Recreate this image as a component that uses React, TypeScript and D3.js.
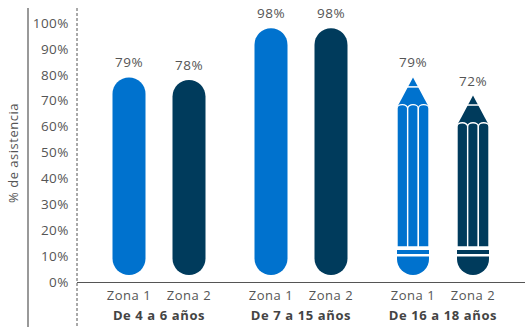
import React from "react";
import * as d3 from "d3";

const groups = ["De 4 a 6 años", "De 7 a 15 años", "De 16 a 18 años"];
const zones = ["Zona 1", "Zona 2"];
const values = [
  [79, 78],
  [98, 98],
  [79, 72],
];
const ticks = [0, 10, 20, 30, 40, 50, 60, 70, 80, 90, 100];
const colors = ["#0072CE", "#003B5C"];

const W = 525;
const H = 327;
const FONT = "'Open Sans', 'DejaVu Sans', sans-serif";

export default function App() {
  const y = d3.scaleLinear().domain([0, 100]).range([282, 23]);
  const gx = d3.scaleBand<string>().domain(groups).range([88, 514]);
  const zx = d3.scalePoint<string>().domain(zones).range([41, 101]);
  const bw = 33;
  const yb = y(0) - 7;

  const pencil = (cx: number, yt: number, col: string) => {
    const hw = 16;
    const x0 = cx - hw;
    const shoulder = yt + 28;
    const stripeEnd = yb - 28;
    const sw = (2 * hw) / 3;
    const parts: React.ReactNode[] = [];
    parts.push(
      <path
        key="cone"
        d={`M${cx},${yt} L${cx + hw},${shoulder + 2} L${cx - hw},${shoulder + 2} Z`}
        fill={col}
      />
    );
    parts.push(
      <line key="tipline" x1={cx - 8} x2={cx + 8} y1={yt + 9.5} y2={yt + 9.5} stroke="#fff" strokeWidth={1.5} />
    );
    for (let i = 0; i < 3; i++) {
      const sx = x0 + i * sw;
      const r = sw / 2;
      parts.push(
        <path
          key={"s" + i}
          d={`M${sx},${stripeEnd} L${sx},${shoulder + r * 0.6} A${r},${r * 0.75} 0 0 1 ${sx + sw},${shoulder + r * 0.6} L${sx + sw},${stripeEnd} Z`}
          fill={col}
          stroke="#fff"
          strokeWidth={1.4}
        />
      );
    }
    parts.push(<rect key="band" x={x0} y={stripeEnd + 3} width={2 * hw} height={4} fill={col} />);
    const capTop = stripeEnd + 9.5;
    parts.push(
      <path
        key="cap"
        d={`M${x0},${capTop} L${x0 + 2 * hw},${capTop} L${x0 + 2 * hw},${yb - hw} A${hw},${hw} 0 0 1 ${x0},${yb - hw} Z`}
        fill={col}
      />
    );
    return parts;
  };

  return (
    <svg width={W} height={H} style={{ position: "absolute", left: 0, top: 0 }} fontFamily={FONT}>
      <rect width={W} height={H} fill="#fff" />
      <line x1={28} x2={28} y1={8} y2={H} stroke="#777" strokeWidth={1.5} />
      <line x1={77} x2={77} y1={8} y2={H} stroke="#555" strokeWidth={1} strokeDasharray="3,2" />
      <line x1={77} x2={W} y1={y(0) + 0.5} y2={y(0) + 0.5} stroke="#555" strokeWidth={1.2} />
      <text
        transform={`translate(18,${153}) rotate(-90)`}
        textAnchor="middle"
        fontSize={13}
        letterSpacing={0.5}
        fill="#555"
      >
        % de asistencia
      </text>
      {ticks.map((t) => (
        <text key={t} x={69} y={y(t)} dy="0.35em" textAnchor="end" fontSize={13.5} letterSpacing={0.5} fill="#555">
          {t}%
        </text>
      ))}
      {groups.map((g, gi) => {
        const g0 = gx(g) as number;
        return (
          <g key={g}>
            {zones.map((z, zi) => {
              const cx = g0 + (zx(z) as number);
              const v = values[gi][zi];
              const col = colors[zi];
              const top = y(v);
              return (
                <g key={z}>
                  {gi < 2 ? (
                    <rect x={cx - bw / 2} y={top} width={bw} height={yb - top} rx={bw / 2} ry={bw / 2} fill={col} />
                  ) : (
                    pencil(cx, top, col)
                  )}
                  <text x={cx} y={top - 10} textAnchor="middle" fontSize={13.5} letterSpacing={0.5} fill="#555">
                    {v}%
                  </text>
                  <text x={cx} y={300} textAnchor="middle" fontSize={13} letterSpacing={0.5} fill="#555">
                    {z}
                  </text>
                </g>
              );
            })}
            <text
              x={g0 + gx.bandwidth() / 2}
              y={320}
              textAnchor="middle"
              fontSize={13}
              fontWeight="bold"
              letterSpacing={0.6}
              fill="#444"
            >
              {g}
            </text>
          </g>
        );
      })}
    </svg>
  );
}
